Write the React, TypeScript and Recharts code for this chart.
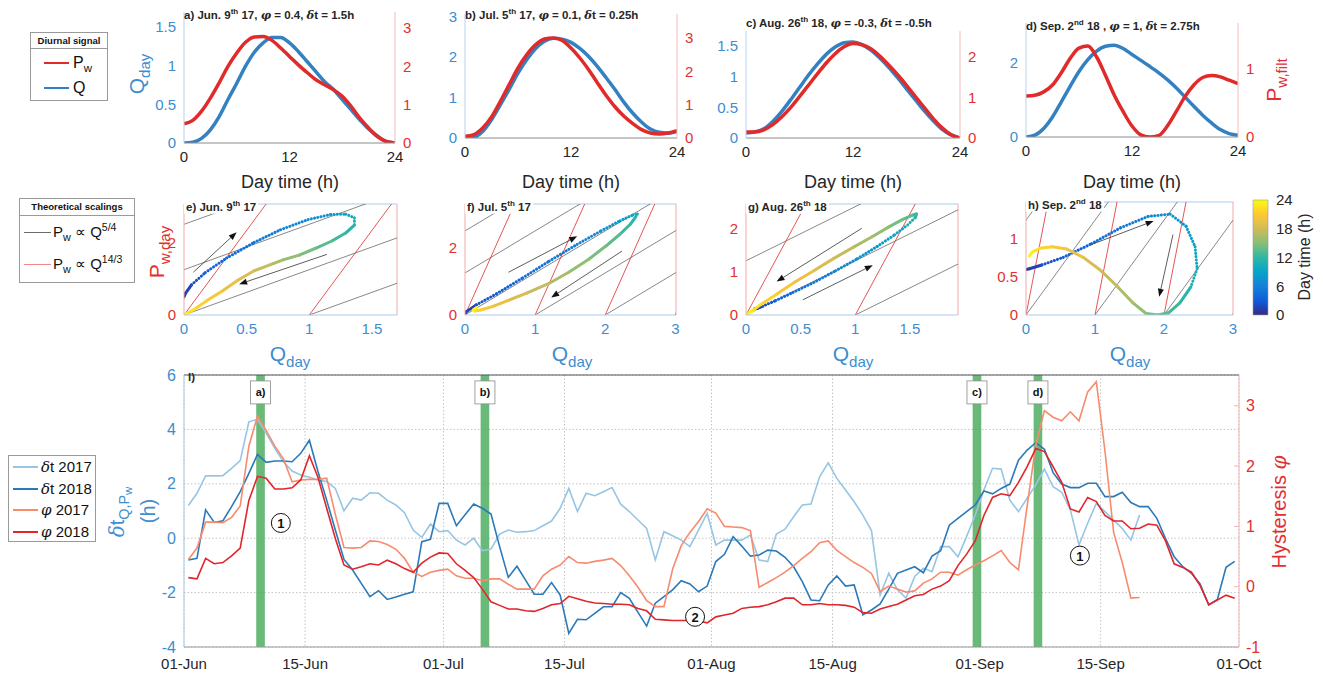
import React from "react";
import {
  ComposedChart,
  Line,
  XAxis,
  YAxis,
  CartesianGrid,
  ReferenceLine,
  ReferenceArea,
  ReferenceDot,
} from "recharts";

const FONT = "'Liberation Sans', Arial, Helvetica, sans-serif";
const BLUE = "#3481c2";
const RED = "#e12a2a";
const BLUE_TXT = "#3d8dd0";
const RED_TXT = "#e3302f";
const GREY_TXT = "#262626";

// ---- diurnal cycles (hourly, 0..24 h) ----
const hours = [0, 1, 2, 3, 4, 5, 6, 7, 8, 9, 10, 11, 12, 13, 14, 15, 16, 17, 18, 19, 20, 21, 22, 23, 24];
const qJun9 = [0, 0.01, 0.06, 0.17, 0.34, 0.56, 0.77, 0.99, 1.17, 1.29, 1.36, 1.36, 1.29, 1.18, 1.05, 0.92, 0.79, 0.69, 0.56, 0.43, 0.3, 0.18, 0.09, 0.02, 0];
const pJun9 = [0.5, 0.59, 0.83, 1.17, 1.57, 2.0, 2.35, 2.63, 2.77, 2.78, 2.68, 2.48, 2.26, 2.04, 1.84, 1.65, 1.52, 1.39, 1.22, 0.96, 0.65, 0.39, 0.17, 0.04, 0];
const qJul5 = [0, 0.02, 0.16, 0.45, 0.82, 1.2, 1.6, 1.94, 2.21, 2.39, 2.46, 2.44, 2.36, 2.21, 2.01, 1.76, 1.48, 1.19, 0.88, 0.61, 0.39, 0.22, 0.14, 0.12, 0.16];
const pJul5 = [0.05, 0.1, 0.3, 0.63, 1.1, 1.6, 2.1, 2.5, 2.8, 2.97, 3.0, 2.93, 2.7, 2.4, 2.05, 1.65, 1.27, 0.93, 0.65, 0.43, 0.25, 0.15, 0.12, 0.15, 0.22];
const qAug26 = [0.08, 0.1, 0.15, 0.27, 0.43, 0.62, 0.82, 1.02, 1.2, 1.36, 1.48, 1.55, 1.56, 1.52, 1.43, 1.3, 1.15, 0.98, 0.8, 0.62, 0.44, 0.28, 0.14, 0.05, 0];
const pAug26 = [0.15, 0.15, 0.2, 0.33, 0.52, 0.75, 1.02, 1.3, 1.58, 1.85, 2.08, 2.25, 2.33, 2.3, 2.2, 2.02, 1.8, 1.56, 1.3, 1.02, 0.75, 0.48, 0.25, 0.08, 0];
const qSep2 = [0, 0.05, 0.23, 0.54, 0.95, 1.37, 1.77, 2.09, 2.32, 2.45, 2.48, 2.39, 2.23, 2.07, 1.91, 1.74, 1.55, 1.33, 1.08, 0.83, 0.59, 0.38, 0.2, 0.09, 0.05];
const pSep2 = [0.6, 0.61, 0.66, 0.76, 0.94, 1.15, 1.3, 1.33, 1.17, 0.9, 0.61, 0.37, 0.16, 0.03, 0, 0.02, 0.16, 0.37, 0.59, 0.76, 0.87, 0.9, 0.88, 0.83, 0.78];

// ---- daily series, index = days since 01-Jun (plotted at noon) ----
const dt2017 = [
  1.2, 1.65, 2.29, 2.29, 2.3, 2.57, 2.85, 4.28, 4.37, 3.86,
  3.3, 2.81, 2.47, 2.32, 2.24, 2.14, 2.08, 1.83, 1.01, 1.47,
  1.4, 1.67, 1.65, 1.4, 1.22, 0.94, 0.3, 0.03, 0.52, 0.24,
  0.28, -0.07, -0.25, 0, -0.46, -0.4, 0.15, 0.3, 0.22, 0.24,
  0.28, 0.46, 0.63, 1.1, 1.83, 0.98, 1.65, 1.56, 1.71, 1.86,
  1.25, 0.98, 0.67, 0.36, -0.8, 0.24, 0.09, -0.07, -0.31, 0.3,
  0.91, -0.25, -0.07, -0.07, -0.07, 0.12, -0.8, -0.86, 0.15, 0.33,
  0.79, 1.22, 1.26, 2.26, 2.77, 2.2, 1.77, 1.34, 0.85, 0.28,
  -2.09, -1.29, -1.9, -2.2, -1.41, -1.1, -1.23, -0.31, -0.31, -0.68,
  0.06, 0.85, 1.77, 2.57, 2.54, 1.4, 0.98, 1.47, 1.96, 2.54,
  1.89, 1.69, 1.04, -0.25, 0.55, 1.28, 0.98, 0.67, 0.36, -0.07,
  0.85,
];
const dt2018 = [
  -0.8, -0.74, 1.04, 0.58, 0.64, 1.16, 1.71, 2.38, 3.08, 2.79,
  2.84, 2.84, 2.81, 3.12, 3.6, 2.44, 1.4, 0.3, -0.78, -1.17,
  -1.66, -2.15, -1.93, -2.25, -2.16, -2.06, -1.97, -0.13, -0.04, 1.28,
  1.28, 0.46, 0.86, 1.26, 1.1, 0.89, -0.31, -1.44, -1.03, -1.54,
  -2.06, -2.06, -1.63, -2.09, -3.5, -2.98, -3.0, -2.76, -2.52, -2.52,
  -2.0, -2.21, -2.73, -3.23, -2.39, -2.15, -1.9, -1.56, -1.68, -1.97,
  -1.76, -0.86, -0.59, 0.06, -0.29, -0.66, -0.62, -0.44, -0.47, -0.7,
  -1.05, -1.6, -2.27, -2.3, -1.72, -1.39, -1.76, -1.72, -2.82, -2.64,
  -2.42, -1.87, -1.29, -1.17, -1.05, -1.27, -0.66, -0.46, 0.48, 0.73,
  0.98, 1.22, 1.74, 1.63, 1.83, 1.99, 2.87, 3.24, 3.51, 3.27,
  2.41, 1.99, 1.86, 1.86, 2.02, 2.02, 1.53, 1.53, 1.69, 1.31,
  1.16, 1.16, 0.73, -0.01, -0.68, -1.05, -1.29, -1.68, -2.45, -2.25,
  -1.07, -0.85,
];
const phi2017 = [
  0.45, 0.64, 1.07, 1.07, 1.06, 1.15, 1.34, 2.33, 2.83, 2.59,
  2.33, 2.12, 1.74, 1.77, 1.78, 1.78, 1.8, 1.2, 0.65, 0.64,
  0.65, 0.76, 0.75, 0.7, 0.62, 0.47, 0.24, 0.17, 0.24, 0.27,
  0.29, 0.18, 0.14, 0.14, 0.1, 0.13, 0.13, 0.04, -0.04, -0.04,
  -0.04, 0.18, 0.29, 0.36, 0.5, 0.4, 0.39, 0.42, 0.44, 0.47,
  0.35, 0.18, -0.01, -0.23, -0.33, -0.33, 0.29, 0.68, 0.9, 1.08,
  1.29, 1.22, 1.0, 0.99, 0.98, 0.93, -0.01, 0.07, 0.15, 0.24,
  0.35, 0.47, 0.58, 0.73, 0.76, 0.6, 0.5, 0.4, 0.32, 0.22,
  -0.08, 0.01, -0.04, -0.09, -0.07, 0.06, 0.13, 0.24, 0.24, 0.19,
  0.28, 0.36, 0.43, 0.51, 0.6, 0.4, 0.28, 1.34, 2.35, 2.92,
  2.81, 2.75, 2.9, 2.75, 3.23, 3.4, 2.25, 0.9, 0.4, -0.19,
  -0.18,
];
const phi2018 = [
  0.15, 0.13, 0.47, 0.38, 0.4, 0.51, 0.64, 1.43, 1.83, 1.8,
  1.62, 1.62, 1.64, 1.77, 2.17, 1.81, 1.3, 0.8, 0.36, 0.29,
  0.33, 0.38, 0.36, 0.44, 0.38, 0.3, 0.24, 0.39, 0.49, 0.56,
  0.55, 0.38, 0.27, 0.15, -0.04, -0.25, -0.31, -0.37, -0.37, -0.4,
  -0.41, -0.36, -0.3, -0.28, -0.16, -0.2, -0.24, -0.27, -0.28, -0.29,
  -0.29, -0.3, -0.36, -0.4, -0.54, -0.55, -0.56, -0.56, -0.56, -0.57,
  -0.6, -0.5, -0.47, -0.44, -0.36, -0.34, -0.33, -0.3, -0.25, -0.19,
  -0.19, -0.3, -0.3, -0.28, -0.3, -0.3, -0.31, -0.34, -0.43, -0.44,
  -0.37, -0.33, -0.29, -0.22, -0.15, -0.13, -0.04, 0.01, 0.1, 0.35,
  0.54, 0.76, 1.18, 1.48, 1.54, 1.51, 1.73, 1.99, 2.29, 2.24,
  1.99, 1.73, 1.29, 1.24, 1.48, 1.41, 1.18, 1.09, 1.09, 0.96,
  0.97, 1.04, 1.02, 0.76, 0.38, 0.32, 0.24, 0.02, -0.3, -0.22,
  -0.14, -0.19,
];

const dateTicks = [0, 14, 30, 44, 61, 75, 92, 106, 122];
const dateLabels = ["01-Jun", "15-Jun", "01-Jul", "15-Jul", "01-Aug", "15-Aug", "01-Sep", "15-Sep", "01-Oct"];

// event bands (start day) and labels
const bandStarts = [8.35, 34.3, 91.2, 98.25];
const bandNames = ["a)", "b)", "c)", "d)"];

// circled annotations
const noteDays = [11.2, 59.1, 103.6];
const noteVals = [0.56, -2.89, -0.64];
const noteText = ["1", "2", "1"];

// colour bar range (day time, h)
const colorbarEnds = [0, 24];
const colorbarTicks = [0, 6, 12, 18, 24];

// theoretical scaling guide lines: P = k (Q - Q0)
const grayOffsets = [-2, -1, 0, 1, 2];
const redOffsets = [0, 1, 2, 3];
const graySlope = 5 / 4;
const redSlope = 14 / 3;

const PARULA = ["#352a87", "#0f5cdd", "#1481d6", "#06a4ca", "#2eb7a4", "#87bf77", "#d1bb59", "#fec832", "#f9fb0e"];

function parula(t: number): string {
  const f = Math.max(0, Math.min(1, t / 24)) * (PARULA.length - 1);
  const i = Math.min(PARULA.length - 2, Math.floor(f));
  const u = f - i;
  const a = PARULA[i];
  const b = PARULA[i + 1];
  const c = [1, 3, 5].map((k) => {
    const va = parseInt(a.slice(k, k + 2), 16);
    const vb = parseInt(b.slice(k, k + 2), 16);
    return Math.round(va + (vb - va) * u);
  });
  return `rgb(${c.join(",")})`;
}

type Rect = { x0: number; x1: number; y0: number; y1: number };
const PL = 60;
const PR = 60;
const PT = 20;
const PB = 40;

const diurnalPanels = [
  { q: qJun9, p: pJun9, rect: { x0: 184, x1: 395, y0: 12, y1: 143 }, qTop: 1.688, qTicks: [0, 0.5, 1, 1.5], pTop: 3.42, pTicks: [0, 1, 2, 3] },
  { q: qJul5, p: pJul5, rect: { x0: 465, x1: 677, y0: 14, y1: 138 }, qTop: 3.06, qTicks: [0, 1, 2, 3], pTop: 3.72, pTicks: [0, 1, 2, 3] },
  { q: qAug26, p: pAug26, rect: { x0: 746, x1: 960, y0: 31, y1: 138 }, qTop: 1.74, qTicks: [0, 0.5, 1, 1.5], pTop: 2.64, pTicks: [0, 1, 2] },
  { q: qSep2, p: pSep2, rect: { x0: 1026, x1: 1238, y0: 23, y1: 137 }, qTop: 3.08, qTicks: [0, 2], pTop: 1.667, pTicks: [0, 1] },
];

const loopPanels = [
  {
    q: qJun9, p: pJun9, rect: { x0: 184, x1: 397, y0: 204, y1: 315 }, xTop: 1.7, xTicks: [0, 0.5, 1, 1.5], yTop: 3.06, yTicks: [0, 2],
    arrows: [[0.075, 1.18, 0.42, 2.28], [1.14, 1.67, 0.44, 0.85]],
  },
  {
    q: qJul5, p: pJul5, rect: { x0: 465, x1: 676, y0: 204, y1: 315 }, xTop: 3.01, xTicks: [0, 1, 2, 3], yTop: 3.3, yTicks: [0, 2],
    arrows: [[0.62, 1.27, 1.6, 2.34], [2.24, 1.9, 1.23, 0.52]],
  },
  {
    q: qAug26, p: pAug26, rect: { x0: 746, x1: 958, y0: 204, y1: 315 }, xTop: 1.94, xTicks: [0, 0.5, 1, 1.5], yTop: 2.56, yTicks: [0, 1, 2],
    arrows: [[1.06, 2.0, 0.28, 0.77], [0.52, 0.35, 1.16, 1.15]],
  },
  {
    q: qSep2, p: pSep2, rect: { x0: 1026, x1: 1233, y0: 202, y1: 315 }, xTop: 3.0, xTicks: [0, 1, 2, 3], yTop: 1.49, yTicks: [0, 0.5, 1],
    arrows: [[0.95, 0.93, 1.85, 1.24], [2.13, 1.06, 1.93, 0.24]],
  },
];

const arrowShape = (props: any) => {
  const { x1, y1, x2, y2 } = props;
  if ([x1, y1, x2, y2].some((v) => typeof v !== "number" || isNaN(v))) return <g />;
  const ang = Math.atan2(y2 - y1, x2 - x1);
  const L = 8;
  const W = 3;
  const bx = x2 - L * Math.cos(ang);
  const by = y2 - L * Math.sin(ang);
  const px = -Math.sin(ang) * W;
  const py = Math.cos(ang) * W;
  return (
    <g>
      <line x1={x1} y1={y1} x2={bx} y2={by} stroke="#333" strokeWidth={0.8} />
      <polygon points={`${x2},${y2} ${bx + px},${by + py} ${bx - px},${by - py}`} fill="#111" />
    </g>
  );
};

function frame(r: Rect, right: number) {
  return {
    left: r.x0 - PL,
    top: r.y0 - PT,
    width: r.x1 - r.x0 + PL + right,
    height: r.y1 - r.y0 + PT + PB,
  };
}

function DiurnalPanel({ cfg }: { cfg: (typeof diurnalPanels)[number] }) {
  const f = frame(cfg.rect, PR);
  const rows = hours.map((t, i) => ({ t, q: cfg.q[i], p: cfg.p[i] }));
  return (
    <div style={{ position: "absolute", left: f.left, top: f.top }}>
      <ComposedChart width={f.width} height={f.height} data={rows} margin={{ top: PT, right: 0, bottom: 0, left: 0 }}>
        <XAxis dataKey="t" type="number" domain={[0, 24]} ticks={[0, 12, 24]} height={PB} allowDataOverflow
          axisLine={{ stroke: "#8c8c8c" }} tickLine={false} tick={{ fontSize: 15, fill: GREY_TXT }} />
        <YAxis yAxisId="q" domain={[0, cfg.qTop]} ticks={cfg.qTicks} width={PL} allowDataOverflow
          axisLine={{ stroke: "#b7d3ee" }} tickLine={false} tick={{ fontSize: 15, fill: BLUE_TXT }} />
        <YAxis yAxisId="p" orientation="right" domain={[0, cfg.pTop]} ticks={cfg.pTicks} width={PR} allowDataOverflow
          axisLine={{ stroke: "#f5b9b9" }} tickLine={false} tick={{ fontSize: 15, fill: RED_TXT }} />
        <Line yAxisId="q" dataKey="q" type="monotone" stroke={BLUE} strokeWidth={3.5} dot={false} isAnimationActive={false} />
        <Line yAxisId="p" dataKey="p" type="monotone" stroke={RED} strokeWidth={3.5} dot={false} isAnimationActive={false} />
      </ComposedChart>
    </div>
  );
}

function LoopPanel({ cfg }: { cfg: (typeof loopPanels)[number] }) {
  const f = frame(cfg.rect, PR);
  return (
    <div style={{ position: "absolute", left: f.left, top: f.top }}>
      <ComposedChart width={f.width} height={f.height} margin={{ top: PT, right: PR, bottom: 0, left: 0 }}>
        <XAxis dataKey="x" type="number" domain={[0, cfg.xTop]} ticks={cfg.xTicks} height={PB} allowDataOverflow
          axisLine={{ stroke: "#a9cbe9" }} tickLine={false} tick={{ fontSize: 15, fill: BLUE_TXT }} />
        <YAxis type="number" domain={[0, cfg.yTop]} ticks={cfg.yTicks} width={PL} allowDataOverflow
          axisLine={{ stroke: "#f2a9a9" }} tickLine={false} tick={{ fontSize: 15, fill: RED_TXT }} />
        <ReferenceLine y={cfg.yTop} stroke="#a9cbe9" ifOverflow="visible" />
        <ReferenceLine x={cfg.xTop} stroke="#f2a9a9" ifOverflow="visible" />
        {grayOffsets.map((o) => (
          <ReferenceLine key={`g${o}`} segment={[{ x: o, y: 0 }, { x: o + 6, y: graySlope * 6 }]}
            stroke="#555" strokeWidth={0.7} ifOverflow="hidden" />
        ))}
        {redOffsets.map((o) => (
          <ReferenceLine key={`r${o}`} segment={[{ x: o, y: 0 }, { x: o + 2, y: redSlope * 2 }]}
            stroke="#e02a2a" strokeWidth={0.8} ifOverflow="hidden" />
        ))}
        {hours.slice(0, -1).map((h, i) => (
          <Line key={`s${i}`} data={[{ x: cfg.q[i], y: cfg.p[i] }, { x: cfg.q[i + 1], y: cfg.p[i + 1] }]}
            dataKey="y" type="linear" stroke={parula(h + 0.5)} strokeWidth={3}
            strokeLinecap="round" strokeDasharray={h >= 2 && h < 11 ? "0.1 3.2" : undefined}
            dot={false} isAnimationActive={false} />
        ))}
        {cfg.arrows.map((a, i) => (
          <ReferenceLine key={`a${i}`} segment={[{ x: a[0], y: a[1] }, { x: a[2], y: a[3] }]}
            shape={arrowShape} ifOverflow="visible" />
        ))}
      </ComposedChart>
    </div>
  );
}

function ColorBar() {
  const r: Rect = { x0: 1253, x1: 1268, y0: 200, y1: 315 };
  const f = frame(r, PR);
  const rows = colorbarEnds.map((v, i) => ({ x: i, y: v }));
  return (
    <div style={{ position: "absolute", left: f.left, top: f.top }}>
      <ComposedChart width={f.width} height={f.height} data={rows} margin={{ top: PT, right: 0, bottom: PB, left: PL }}>
        <XAxis type="number" dataKey="x" domain={[0, 1]} hide />
        <YAxis type="number" orientation="right" domain={[0, 24]} ticks={colorbarTicks} width={PR}
          axisLine={false} tickLine={false} tick={{ fontSize: 15, fill: GREY_TXT }} />
        <ReferenceArea x1={0} x2={1} y1={0} y2={24} fill="url(#parulaGrad)" fillOpacity={1} stroke="#9a9a9a" strokeWidth={0.6} ifOverflow="visible" />
        <Line dataKey="y" stroke="none" strokeWidth={0} dot={false} isAnimationActive={false} />
      </ComposedChart>
    </div>
  );
}

function MainPanel() {
  const r: Rect = { x0: 184, x1: 1239, y0: 375, y1: 647 };
  const f = frame(r, PR);
  const rows = dt2018.map((_, k) => ({
    x: k + 0.5,
    dt17: k < dt2017.length ? dt2017[k] : null,
    dt18: dt2018[k],
    ph17: k < phi2017.length ? phi2017[k] : null,
    ph18: phi2018[k],
  }));
  return (
    <div style={{ position: "absolute", left: f.left, top: f.top }}>
      <ComposedChart width={f.width} height={f.height} data={rows} margin={{ top: PT, right: 0, bottom: 0, left: 0 }}>
        <CartesianGrid yAxisId="L" stroke="#c4c4c4" strokeDasharray="1.5 2" />
        <XAxis dataKey="x" type="number" domain={[0, 122]} ticks={dateTicks} height={PB} allowDataOverflow
          tickFormatter={(v: number) => dateLabels[dateTicks.indexOf(v)] ?? ""} tickMargin={5}
          axisLine={{ stroke: "#9a9a9a" }} tickLine={false} tick={{ fontSize: 15, fill: GREY_TXT }} />
        <YAxis yAxisId="L" domain={[-4, 6]} ticks={[-4, -2, 0, 2, 4, 6]} width={PL} allowDataOverflow
          axisLine={{ stroke: "#a8cbe8" }} tickLine={false} tick={{ fontSize: 16, fill: BLUE_TXT }} />
        <YAxis yAxisId="R" orientation="right" domain={[-1, 3.51]} ticks={[-1, 0, 1, 2, 3]} width={PR} allowDataOverflow
          axisLine={{ stroke: "#f4b4b4" }} tickLine={{ stroke: "#f4b4b4" }} tickSize={-5} tickMargin={12} tick={{ fontSize: 16, fill: RED_TXT }} />
        <ReferenceLine yAxisId="L" y={6} stroke="#555" />
        {bandStarts.map((b, i) => (
          <ReferenceArea key={`b${i}`} yAxisId="L" x1={b} x2={b + 1} y1={-4} y2={6} fill="#4fae62" fillOpacity={0.85} stroke="none" />
        ))}
        <Line yAxisId="L" dataKey="dt17" stroke="#97c5e3" strokeWidth={1.6} dot={false} isAnimationActive={false} />
        <Line yAxisId="L" dataKey="dt18" stroke="#2b79b9" strokeWidth={1.6} dot={false} isAnimationActive={false} />
        <Line yAxisId="R" dataKey="ph17" stroke="#f78b6e" strokeWidth={1.6} dot={false} isAnimationActive={false} />
        <Line yAxisId="R" dataKey="ph18" stroke="#e0262b" strokeWidth={1.6} dot={false} isAnimationActive={false} />
        {bandStarts.map((b, i) => (
          <ReferenceDot key={`bl${i}`} yAxisId="L" x={b + 0.5} y={5.36} r={1} ifOverflow="visible"
            shape={(p: any) => (
              <g>
                <rect x={p.cx - 10} y={p.cy - 11.5} width={20} height={23} fill="#fff" stroke="#8a8a8a" strokeWidth={0.8} />
                <text x={p.cx} y={p.cy + 4} textAnchor="middle" fontSize={11} fontWeight="bold" fill="#111">{bandNames[i]}</text>
              </g>
            )} />
        ))}
        {noteDays.map((d, i) => (
          <ReferenceDot key={`n${i}`} yAxisId="L" x={d} y={noteVals[i]} r={9} ifOverflow="visible"
            shape={(p: any) => (
              <g>
                <circle cx={p.cx} cy={p.cy} r={9.5} fill="#fff" stroke="#111" strokeWidth={1} />
                <text x={p.cx} y={p.cy + 5} textAnchor="middle" fontSize={13} fontWeight="bold" fill="#111">{noteText[i]}</text>
              </g>
            )} />
        ))}
      </ComposedChart>
    </div>
  );
}

const subS: React.CSSProperties = { fontSize: "0.72em", verticalAlign: "-0.35em", lineHeight: 0 };
const supS: React.CSSProperties = { fontSize: "0.7em", verticalAlign: "0.55em", lineHeight: 0 };

function Txt(props: {
  x: number; y: number; children: React.ReactNode; size?: number; color?: string;
  rotate?: boolean; bold?: boolean; left?: boolean; bg?: string;
}) {
  const { x, y, children, size = 15, color = GREY_TXT, rotate = false, bold = false, left = false, bg } = props;
  return (
    <div style={{
      position: "absolute", left: x, top: y, whiteSpace: "nowrap", fontSize: size, color,
      fontWeight: bold ? "bold" : "normal", lineHeight: 1.1, background: bg, padding: bg ? "0 2px" : 0,
      transform: `translate(${left ? "0" : "-50%"}, -50%)${rotate ? " rotate(-90deg)" : ""}`,
    }}>
      {children}
    </div>
  );
}

function LegendBox(props: {
  x: number; y: number; w: number; h: number; title?: string; titleH?: number;
  items: { color: string; lw: number; y: number; label: React.ReactNode }[]; lineX: [number, number]; textX: number; size: number;
}) {
  const { x, y, w, h, title, titleH = 0, items, lineX, textX, size } = props;
  return (
    <div style={{ position: "absolute", left: x, top: y, width: w, height: h, border: "1px solid #9a9a9a", background: "#fff" }}>
      {title && (
        <div style={{ height: titleH, borderBottom: "1px solid #9a9a9a", fontSize: 9.5, fontWeight: "bold", textAlign: "center", lineHeight: `${titleH}px`, color: "#111" }}>
          {title}
        </div>
      )}
      {items.map((it, i) => (
        <React.Fragment key={i}>
          <div style={{ position: "absolute", left: lineX[0], top: it.y - it.lw / 2, width: lineX[1] - lineX[0], height: it.lw, background: it.color }} />
          <div style={{ position: "absolute", left: textX, top: it.y, transform: "translateY(-50%)", fontSize: size, whiteSpace: "nowrap", color: "#111", lineHeight: 1.1 }}>
            {it.label}
          </div>
        </React.Fragment>
      ))}
    </div>
  );
}

const phi = <i style={{ fontFamily: "'DejaVu Serif', serif" }}>φ</i>;
const delta = <span style={{ fontFamily: "'DejaVu Serif', serif", fontStyle: "italic" }}>δ</span>;

export default function App() {
  return (
    <div style={{ position: "absolute", left: 0, top: 0, width: 1323, height: 677, background: "#fff", fontFamily: FONT, overflow: "hidden" }}>
      <svg width={0} height={0} style={{ position: "absolute" }}>
        <defs>
          <linearGradient id="parulaGrad" x1="0" y1="1" x2="0" y2="0">
            {PARULA.map((c, i) => (
              <stop key={i} offset={`${(i / (PARULA.length - 1)) * 100}%`} stopColor={c} />
            ))}
          </linearGradient>
        </defs>
      </svg>

      {diurnalPanels.map((cfg, i) => <DiurnalPanel key={i} cfg={cfg} />)}
      {loopPanels.map((cfg, i) => <LoopPanel key={i} cfg={cfg} />)}
      <ColorBar />
      <MainPanel />

      {/* top-row titles */}
      <Txt x={184} y={15} left bold size={11.5}>a) Jun. 9<sup style={supS}>th</sup> 17, {phi} = 0.4, {delta}t = 1.5h</Txt>
      <Txt x={465} y={15} left bold size={11.5}>b) Jul. 5<sup style={supS}>th</sup> 17, {phi} = 0.1, {delta}t = 0.25h</Txt>
      <Txt x={746} y={23} left bold size={11.5}>c) Aug. 26<sup style={supS}>th</sup> 18, {phi} = -0.3, {delta}t = -0.5h</Txt>
      <Txt x={1026} y={26} left bold size={11.5}>d) Sep. 2<sup style={supS}>nd</sup> 18 , {phi} = 1, {delta}t = 2.75h</Txt>

      {[290, 571, 853, 1132].map((cx) => (
        <Txt key={cx} x={cx} y={183} size={18}>Day time (h)</Txt>
      ))}
      <Txt x={137} y={74} size={21} color={BLUE_TXT} rotate>Q<sub style={subS}>day</sub></Txt>
      <Txt x={1274} y={80} size={21} color={RED_TXT} rotate>P<sub style={subS}>w,filt</sub></Txt>

      {/* second-row titles */}
      <Txt x={184} y={207} left bold size={11.5} bg="#fff">e) Jun. 9<sup style={supS}>th</sup> 17</Txt>
      <Txt x={465} y={207} left bold size={11.5} bg="#fff">f) Jul. 5<sup style={supS}>th</sup> 17</Txt>
      <Txt x={746} y={207} left bold size={11.5} bg="#fff">g) Aug. 26<sup style={supS}>th</sup> 18</Txt>
      <Txt x={1026} y={205} left bold size={11.5} bg="#fff">h) Sep. 2<sup style={supS}>nd</sup> 18</Txt>
      {[290, 572, 853, 1130].map((cx) => (
        <Txt key={cx} x={cx} y={354} size={21} color={BLUE_TXT}>Q<sub style={subS}>day</sub></Txt>
      ))}
      <Txt x={157} y={252} size={21} color={RED_TXT} rotate>P<sub style={subS}>w,day</sub></Txt>
      <Txt x={1305} y={257} size={16} rotate>Day time (h)</Txt>

      {/* main panel labels */}
      <Txt x={188} y={377} left bold size={11.5}>l)</Txt>
      <Txt x={117} y={512} size={20} color={BLUE_TXT} rotate>{delta}t<sub style={subS}>Q,P<sub style={{ fontSize: "0.8em", verticalAlign: "-0.3em", lineHeight: 0 }}>w</sub></sub></Txt>
      <Txt x={148} y={511} size={20} color={BLUE_TXT} rotate>(h)</Txt>
      <Txt x={1279} y={512} size={20} color={RED_TXT} rotate>Hysteresis {phi}</Txt>

      {/* legends */}
      <LegendBox x={30} y={32} w={76} h={67} title="Diurnal signal" titleH={15} lineX={[13, 38]} textX={42} size={16}
        items={[
          { color: RED, lw: 2, y: 30, label: <>P<sub style={subS}>w</sub></> },
          { color: BLUE, lw: 2, y: 55, label: "Q" },
        ]} />
      <LegendBox x={19} y={198} w={114} h={83} title="Theoretical scalings" titleH={16} lineX={[4, 31]} textX={33} size={15}
        items={[
          { color: "#6b6b6b", lw: 1, y: 33, label: <>P<sub style={subS}>w</sub> ∝ Q<sup style={supS}>5/4</sup></> },
          { color: "#f08a8a", lw: 1, y: 65, label: <>P<sub style={subS}>w</sub> ∝ Q<sup style={supS}>14/3</sup></> },
        ]} />
      <LegendBox x={8} y={455} w={86} h={85} lineX={[4, 29]} textX={32} size={15}
        items={[
          { color: "#97c5e3", lw: 2, y: 11, label: <>{delta}t 2017</> },
          { color: "#2b79b9", lw: 2, y: 33, label: <>{delta}t 2018</> },
          { color: "#f78b6e", lw: 2, y: 54, label: <>{phi} 2017</> },
          { color: "#e0262b", lw: 2, y: 76, label: <>{phi} 2018</> },
        ]} />
    </div>
  );
}
